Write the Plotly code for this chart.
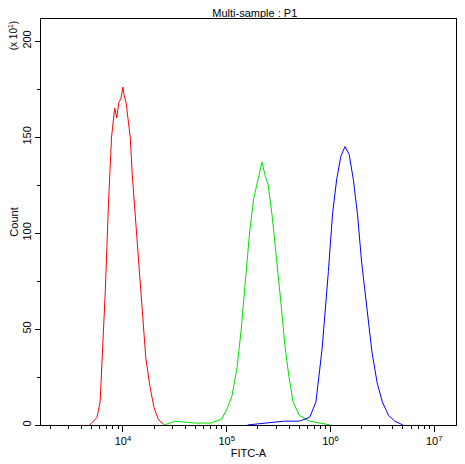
import plotly.graph_objects as go

red_x = [3.68,3.75,3.78,3.80,3.83,3.86,3.89,3.92,3.94,3.96,3.98,4.00,4.01,4.03,4.05,4.07,4.09,4.12,4.15,4.18,4.22,4.26,4.30,4.34,4.40]
red_y = [0,4,12,35,70,115,150,165,160,168,170,176,172,168,160,150,130,108,85,60,35,20,9,3,0]
green_x = [4.40,4.50,4.70,4.85,4.95,5.00,5.05,5.10,5.14,5.18,5.22,5.26,5.30,5.34,5.37,5.40,5.44,5.48,5.52,5.56,5.60,5.64,5.70,5.80,5.90,6.00]
green_y = [0,2,1,1,3,8,15,30,50,75,100,118,128,137,130,125,108,88,65,42,25,12,5,2,1,0]
blue_x = [5.20,5.40,5.55,5.70,5.80,5.86,5.92,5.98,6.02,6.06,6.10,6.14,6.18,6.22,6.26,6.30,6.35,6.40,6.45,6.50,6.56,6.62,6.70]
blue_y = [0,1,2,2,4,12,40,80,110,128,140,145,141,128,110,85,60,38,22,12,5,2,0]

fig = go.Figure()
for xs, ys, c in [(red_x, red_y, "red"), (green_x, green_y, "#00e000"), (blue_x, blue_y, "blue")]:
    fig.add_trace(go.Scatter(x=[10**v for v in xs], y=ys, mode="lines", line=dict(color=c, width=1), showlegend=False))

fig.update_layout(
    width=457, height=456, margin=dict(l=33, r=9, t=11, b=39),
    plot_bgcolor="white", paper_bgcolor="white",
    font=dict(family="Liberation Sans, Arial", size=11, color="black"),
    title=dict(text="Multi-sample : P1", x=0.54, y=0.998, xanchor="center", yanchor="top", font=dict(size=11)),
)
fig.update_xaxes(type="log", range=[3.21, 7.21], showline=True, linecolor="black", mirror=True, showgrid=False,
                 ticks="outside", ticklen=6, tickcolor="black", tickvals=[1e4,1e5,1e6,1e7],
                 ticktext=["10<sup>4</sup>","10<sup>5</sup>","10<sup>6</sup>","10<sup>7</sup>"],
                 minor=dict(ticks="outside", ticklen=3, tickcolor="black", dtick="D1"),
                 title=dict(text="FITC-A", standoff=0, font=dict(size=11)), zeroline=False, automargin=False)
fig.update_yaxes(range=[0, 211.5], showline=True, linecolor="black", mirror=True, showgrid=False,
                 ticks="outside", ticklen=5, tickcolor="black", tickvals=[0,50,100,150,200], tickangle=-90,
                 minor=dict(ticks="outside", ticklen=3, tickcolor="black", dtick=25),
                 title=dict(text="Count", standoff=2, font=dict(size=11)), zeroline=False, automargin=False)
fig.add_annotation(text="(x 10<sup>1</sup>)", xref="paper", yref="paper", x=-0.068, y=1.0, textangle=-90,
                   showarrow=False, xanchor="center", yanchor="top", font=dict(size=10))
fig.write_html("out.html")
